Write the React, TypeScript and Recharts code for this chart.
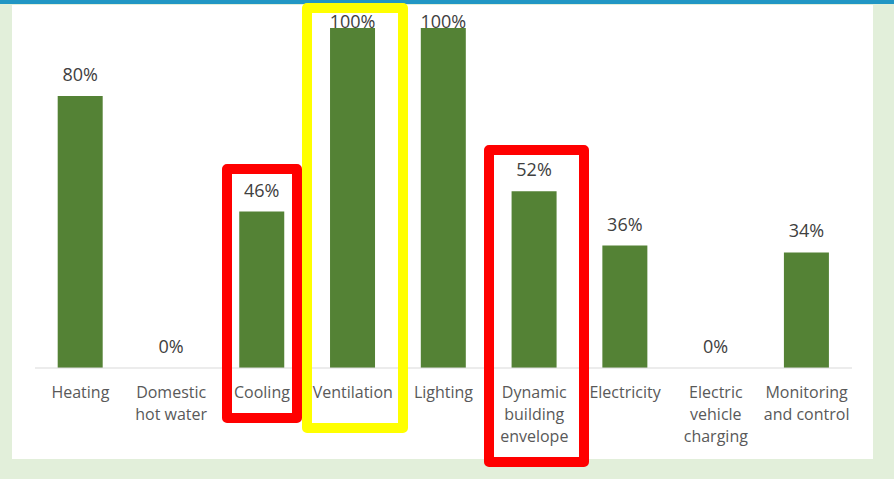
import { Bar, BarChart, LabelList, XAxis, YAxis } from 'recharts'

const categories = [
  'Heating',
  'Domestic\nhot water',
  'Cooling',
  'Ventilation',
  'Lighting',
  'Dynamic\nbuilding\nenvelope',
  'Electricity',
  'Electric\nvehicle\ncharging',
  'Monitoring\nand control',
]

const shares = [80, 0, 46, 100, 100, 52, 36, 0, 34]

const data = categories.map((name, i) => ({ name, value: shares[i] }))

const MARGIN = { top: 28, right: 42, bottom: 81, left: 35 }
const FONT = '"Open Sans", sans-serif'

function CategoryTick({ x, y, payload }: any) {
  const lines = String(payload.value).split('\n')
  return (
    <text x={x} y={y} textAnchor="middle" fill="#595959" fontSize={16} fontFamily={FONT}>
      {lines.map((line, i) => (
        <tspan key={i} x={x} dy={i === 0 ? 28 : 22}>
          {line}
        </tspan>
      ))}
    </text>
  )
}

function ValueLabel({ x, y, width, value }: any) {
  // Excel pushes labels of full-height bars down inside the plot area
  const baseline = Math.max(y - 15, MARGIN.top)
  return (
    <text
      x={x + width / 2}
      y={baseline}
      textAnchor="middle"
      fill="#404040"
      fontSize={18}
      fontFamily={FONT}
    >
      {value}%
    </text>
  )
}

export default function App() {
  return (
    <div
      style={{
        position: 'absolute',
        left: 0,
        top: 0,
        width: 894,
        height: 479,
        background: '#e2efda',
        overflow: 'hidden',
      }}
    >
      <div style={{ position: 'absolute', left: 0, top: 0, width: 894, height: 4, background: '#2196c4' }} />
      <div style={{ position: 'absolute', left: 12, top: 5, width: 861, height: 454, background: '#ffffff' }} />
      <div style={{ position: 'absolute', left: 0, top: 0 }}>
        <BarChart width={894} height={479} data={data} margin={MARGIN} barCategoryGap="25%">
          <XAxis
            dataKey="name"
            interval={0}
            tickLine={false}
            tickSize={0}
            axisLine={{ stroke: '#d9d9d9' }}
            tick={<CategoryTick />}
          />
          <YAxis hide domain={[0, 100]} />
          <Bar dataKey="value" fill="#548235" minPointSize={0.01} isAnimationActive={false}>
            <LabelList dataKey="value" content={<ValueLabel />} />
          </Bar>
        </BarChart>
      </div>

      {/* highlight boxes drawn over the chart */}
      <div style={{ position: 'absolute', left: 222, top: 164, width: 80, height: 259, boxSizing: 'border-box', border: '10px solid #ff0000', borderRadius: 5 }} />
      <div style={{ position: 'absolute', left: 302, top: 3, width: 106, height: 430, boxSizing: 'border-box', border: '10px solid #ffff00', borderRadius: 5 }} />
      <div style={{ position: 'absolute', left: 484, top: 145, width: 105, height: 322, boxSizing: 'border-box', border: '10px solid #ff0000', borderRadius: 5 }} />
    </div>
  )
}
